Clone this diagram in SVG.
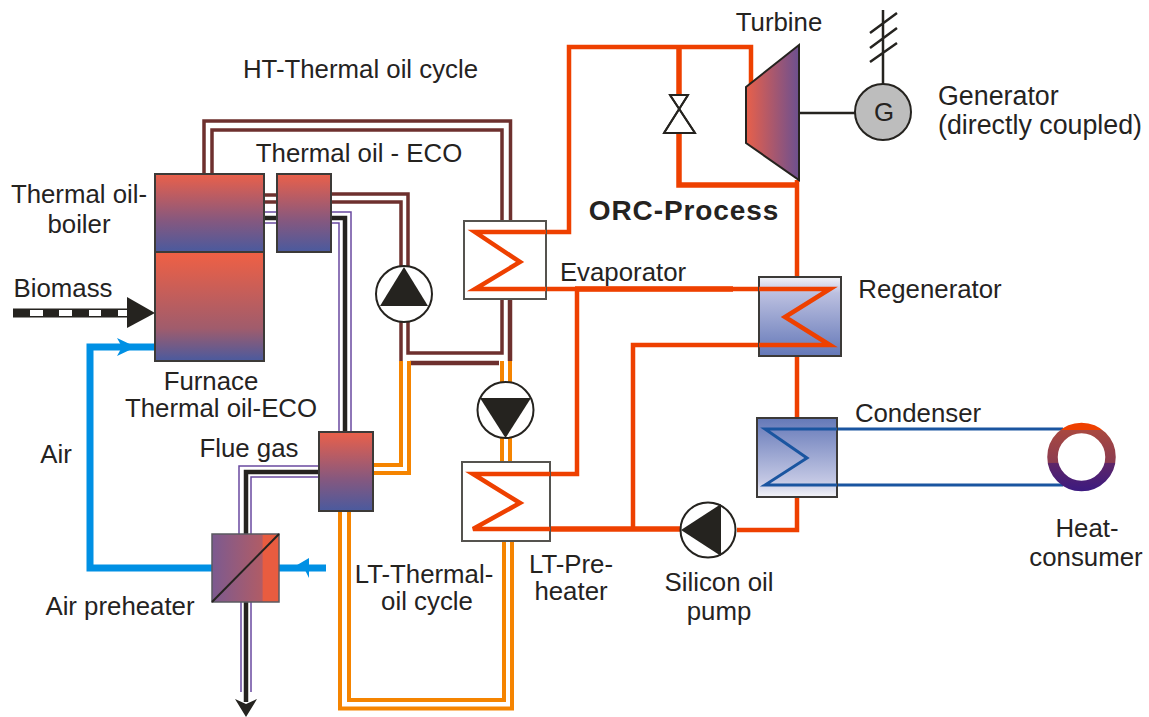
<svg xmlns="http://www.w3.org/2000/svg" width="1149" height="717" viewBox="0 0 1149 717">
<style>
text{font-family:"Liberation Sans",Arial,sans-serif;font-size:25.8px;fill:#25231f}
.m{text-anchor:middle}
.c{fill:none;stroke-linejoin:miter}
.br{stroke:#6e302e;stroke-width:3.5}
.brt{stroke:#6e302e;stroke-width:4.5}
.or{stroke:#f58400;stroke-width:4}
.pu{stroke:#6a4aa0;stroke-width:1.5}
.bk{stroke:#25231f;stroke-width:4.5}
.bl{stroke:#0090e4;stroke-width:7}
.rd{stroke:#ee4000;stroke-width:4.5}
.rdt{stroke:#ee4000;stroke-width:5.5}
.db{stroke:#1a55a0;stroke-width:3}
.box{stroke:#3c3a38;stroke-width:2}
.pump{fill:#fff;stroke:#25231f;stroke-width:2}
.tri{fill:#25231f}
.hx{fill:#fff;stroke:#55534f;stroke-width:2}
</style>
<defs>
<linearGradient id="gv" x1="0" y1="0" x2="0" y2="1"><stop offset="0" stop-color="#ea604a"/><stop offset=".6" stop-color="#85587f"/><stop offset="1" stop-color="#4a5a9e"/></linearGradient>
<linearGradient id="gf" x1="0" y1="0" x2="0" y2="1"><stop offset="0" stop-color="#f06044"/><stop offset=".7" stop-color="#a05c6c"/><stop offset="1" stop-color="#4a5a9e"/></linearGradient>
<linearGradient id="gh" x1="0" y1="0" x2="1" y2="0"><stop offset="0" stop-color="#7c5a90"/><stop offset=".75" stop-color="#b05c66"/><stop offset=".76" stop-color="#e85c40"/><stop offset="1" stop-color="#e85c40"/></linearGradient>
<linearGradient id="gt" x1="0" y1="0" x2="1" y2="0"><stop offset="0" stop-color="#e8604a"/><stop offset="1" stop-color="#6c5090"/></linearGradient>
<linearGradient id="gr" x1="0" y1="0" x2="0" y2="1"><stop offset="0" stop-color="#f4f4f8"/><stop offset=".2" stop-color="#bcc0e0"/><stop offset="1" stop-color="#6478b8"/></linearGradient>
<linearGradient id="gc" x1="0" y1="0" x2="0" y2="1"><stop offset="0" stop-color="#6478b8"/><stop offset=".8" stop-color="#c4c8e4"/><stop offset="1" stop-color="#f4f4f8"/></linearGradient>
<linearGradient id="gk" gradientUnits="userSpaceOnUse" x1="0" y1="423" x2="0" y2="491"><stop offset="0" stop-color="#ee4000"/><stop offset=".1" stop-color="#ee4000"/><stop offset=".11" stop-color="#a84840"/><stop offset=".58" stop-color="#8c3c50"/><stop offset=".59" stop-color="#5e2668"/><stop offset="1" stop-color="#3c1a80"/></linearGradient>
</defs>
<g id="connectors">
<path class="c br" d="M204 174V121H510.500V221"/>
<path class="c br" d="M212 174V130H502V221"/>
<path class="c br" d="M264 195H277M264 202H277"/>
<path class="c br" d="M331 194H408V268"/>
<path class="c br" d="M331 202H401V268"/>
<path class="c br" d="M401 320V361"/>
<path class="c br" d="M408 320V353H502V299"/>
<path class="c brt" d="M510 299V361"/>
<path class="c brt" d="M410 363H499"/>
<path class="c or" d="M401 361V465H373"/>
<path class="c or" d="M409 361V473H373"/>
<path class="c or" d="M502 361V384M510 361V384M502 436V462M510 436V462"/>
<path class="c or" d="M340 511V708.500H512V541"/>
<path class="c or" d="M349 511V700H504V541"/>
<path class="c pu" d="M264 212H277M264 223H277"/>
<path class="c pu" d="M331 212H351V432"/>
<path class="c pu" d="M331 223H339V432"/>
<path class="c bk" d="M264 218H277M331 218H345V432"/>
<path class="c pu" d="M319 466H239V534"/>
<path class="c pu" d="M319 477H251V534"/>
<path class="c bk" d="M319 472H246V534"/>
<path class="c pu" d="M241 602V692M251 602V692"/>
<path class="c bk" d="M246 602V702"/>
<polygon class="tri" points="235,699 246,704 257,699 246,717"/>
<path class="c bl" d="M212 568H90V347H155"/>
<polygon fill="#0090e4" points="117,338 136,347 117,356 122,347"/>
<path class="c bl" d="M326 568H279"/>
<polygon fill="#0090e4" points="292,568 309,558 309,578 304,568"/>
<rect x="13" y="308.500" width="120" height="9" fill="#25231f"/>
<path d="M30 313H43M59 313H72M89 313H101M118 313H131" fill="none" stroke="#fff" stroke-width="6"/>
<polygon class="tri" points="127,297 155,313 127,328"/>
<path class="c rd" d="M546 232H569V47H751V90"/>
<path class="c rdt" d="M679 47V95"/>
<path class="c rdt" d="M679 134V185H797"/>
<path class="c rd" d="M797 180V277M797 356V418M797 497V530H737"/>
<path class="c rd" d="M546 289H759"/>
<path class="c rdt" d="M575 289H733"/>
<path class="c rd" d="M577 289V474H550"/>
<path class="c rd" d="M759 345H633V529"/>
<path class="c rdt" d="M550 529H682"/>
<path class="c db" d="M837 429H1063M837 485H1063"/>
<path d="M799 113H855" fill="none" stroke="#25231f" stroke-width="2.500"/>
<path d="M883 85V10M870 33L897 13M870 48L897 28M870 62L897 43" fill="none" stroke="#25231f" stroke-width="2.500"/>
</g>
<g id="boiler"><rect class="box" x="155" y="174" width="109" height="78" fill="url(#gv)"/><text x="79" y="203" class="m">Thermal oil-</text><text x="79" y="233" class="m">boiler</text></g>
<g id="furnace"><rect class="box" x="155" y="252" width="109" height="109" fill="url(#gf)"/><text x="211" y="390" class="m">Furnace</text><text x="221" y="417" class="m">Thermal oil-ECO</text></g>
<g id="eco"><rect class="box" x="277" y="174" width="54" height="78" fill="url(#gv)"/><text x="359" y="162" class="m">Thermal oil - ECO</text></g>
<g id="ht-pump"><circle class="pump" cx="404" cy="294" r="28"/><polygon class="tri" points="404,267 380,306 428,306"/></g>
<g id="lt-pump"><circle class="pump" cx="505.500" cy="410" r="28"/><polygon class="tri" points="505.500,438 480,398 531,398"/></g>
<g id="flue-gas-hx"><rect class="box" x="319" y="432" width="54" height="79" fill="url(#gv)"/><text x="249" y="457" class="m">Flue gas</text></g>
<g id="air-preheater"><rect x="212" y="534" width="67" height="68" fill="url(#gh)" stroke="#5a5a60" stroke-width="1.500"/><path d="M212 602L279 534" stroke="#25231f" stroke-width="2" fill="none"/><text x="120" y="615" class="m">Air preheater</text></g>
<g id="evaporator"><rect class="hx" x="464" y="221" width="82" height="78"/><path class="c rd" d="M546 232H475L520 262L475 289H546"/><text x="623" y="281" class="m">Evaporator</text></g>
<g id="lt-preheater"><rect class="hx" x="462" y="462" width="88" height="79"/><path class="c rd" d="M550 474H473L520 503L473 529H550"/><text x="571" y="573" class="m">LT-Pre-</text><text x="571" y="600" class="m">heater</text></g>
<g id="regenerator"><rect class="box" x="759" y="277" width="82" height="79" fill="url(#gr)"/><path class="c rd" d="M759 289H830L785 317L830 345H759"/><text x="930" y="298" class="m">Regenerator</text></g>
<g id="condenser"><rect class="box" x="757" y="418" width="80" height="79" fill="url(#gc)"/><path class="c db" d="M837 429H765L807 458L765 485H837"/><text x="918" y="422" class="m">Condenser</text></g>
<g id="silicon-pump"><circle class="pump" cx="708" cy="530" r="27.500"/><polygon class="tri" points="681,530 721,504 721,556"/><text x="719" y="591" class="m">Silicon oil</text><text x="719" y="620" class="m">pump</text></g>
<g id="heat-consumer"><circle cx="1081.500" cy="457" r="29" fill="none" stroke="url(#gk)" stroke-width="10.500"/><text x="1087" y="537" class="m">Heat-</text><text x="1086" y="566" class="m">consumer</text></g>
<g id="turbine"><polygon points="746,87 799,45 799,180 746,143" fill="url(#gt)" stroke="#25231f" stroke-width="2"/><text x="779" y="31" class="m">Turbine</text></g>
<g id="valve"><path d="M670 95H688L664 133H695Z" fill="#fff" stroke="#25231f" stroke-width="2"/><path d="M670 95L695 133M688 95L664 133" stroke="#25231f" stroke-width="2" fill="none"/></g>
<g id="generator"><circle cx="883" cy="112" r="28" fill="#bdbdbd" stroke="#25231f" stroke-width="2"/><text x="884" y="121" class="m">G</text><text x="938" y="105" style="font-size:26.800px">Generator</text><text x="938" y="134" style="font-size:26.800px">(directly coupled)</text></g>
<g id="labels">
<text x="360.500" y="78" class="m">HT-Thermal oil cycle</text>
<text x="684" y="220" class="m" style="font-weight:bold;font-size:28px;letter-spacing:.9px">ORC-Process</text>
<text x="63" y="297" class="m">Biomass</text>
<text x="56" y="463" class="m">Air</text>
<text x="424" y="583" class="m">LT-Thermal-</text>
<text x="427" y="610" class="m">oil cycle</text>
</g>
</svg>
